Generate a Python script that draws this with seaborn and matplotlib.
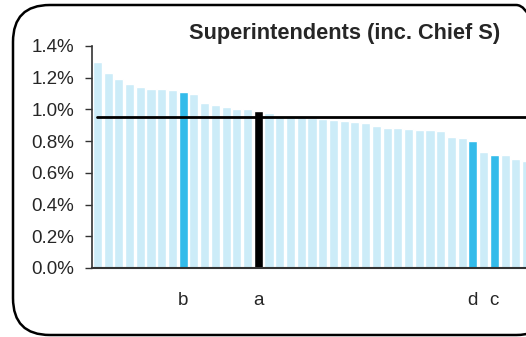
import matplotlib
matplotlib.use("Agg")
import matplotlib.pyplot as plt
import seaborn as sns
import numpy as np
from matplotlib.patches import FancyBboxPatch
from matplotlib.ticker import PercentFormatter

# values in percent, sorted descending
values = [1.30, 1.23, 1.19, 1.16, 1.14, 1.13, 1.13, 1.12, 1.11, 1.095,
          1.04, 1.03, 1.015, 1.00, 1.00, 0.99, 0.98, 0.955, 0.952, 0.95,
          0.945, 0.94, 0.932, 0.926, 0.92, 0.913, 0.894, 0.882, 0.882, 0.875,
          0.869, 0.869, 0.863, 0.825, 0.818, 0.80, 0.73, 0.711, 0.711, 0.685,
          0.673]
average = 0.955
highlight = {8: "b", 15: "a", 35: "d", 37: "c"}
highlight_colors = {"a": "#000000", "b": "#33BBEA", "c": "#33BBEA", "d": "#33BBEA"}
base_color = "#CCECF8"

labels = [str(i) for i in range(len(values))]
palette = {}
for i, lab in enumerate(labels):
    palette[lab] = highlight_colors[highlight[i]] if i in highlight else base_color

sns.set_style("white")
plt.rcParams['font.family'] = ['Liberation Sans', 'DejaVu Sans']

fig = plt.figure(figsize=(5.26, 3.37), dpi=100)
# rounded frame, right side runs off the picture
frame = FancyBboxPatch((13 / 526, 2 / 337), 540 / 526, 330 / 337,
                       boxstyle="round,pad=0,rounding_size=0.07",
                       transform=fig.transFigure, fill=False,
                       edgecolor="black", linewidth=1.8, mutation_aspect=526 / 337)
fig.patches.append(frame)

n = len(values)
ax = fig.add_axes([92 / 526, 1 - 268 / 337, n * 10.73 / 526, 222 / 337])
sns.barplot(x=labels, y=values, hue=labels, palette=palette, legend=False,
            width=0.85, saturation=1, order=labels, ax=ax)
ax.set_xlim(-0.5, n - 0.5)
ax.set_ylim(0, 1.4)
ax.plot([0, n], [average, average], color="black", linewidth=2, zorder=5)

ax.yaxis.set_major_formatter(PercentFormatter(xmax=100, decimals=1))
ax.set_yticks(np.arange(0, 1.41, 0.2))
ax.tick_params(axis="y", direction="out", length=5, width=1, color="#333333",
               labelsize=13.5, pad=8, left=True)
ax.set_xticks(list(highlight.keys()))
ax.set_xticklabels(list(highlight.values()))
ax.tick_params(axis="x", length=0, labelsize=13.5, pad=17)
ax.set_xlabel("")
ax.set_ylabel("")

for s in ["top", "right"]:
    ax.spines[s].set_visible(False)
ax.spines["left"].set_color("#333333")
ax.spines["bottom"].set_color("#333333")
ax.spines["left"].set_linewidth(1.2)
ax.spines["bottom"].set_linewidth(1.5)

fig.text(345 / 526, 1 - 33 / 337, "Superintendents (inc. Chief S)",
         ha="center", va="center", fontsize=15.7, fontweight="bold")

fig.savefig("out.png", dpi=100)
